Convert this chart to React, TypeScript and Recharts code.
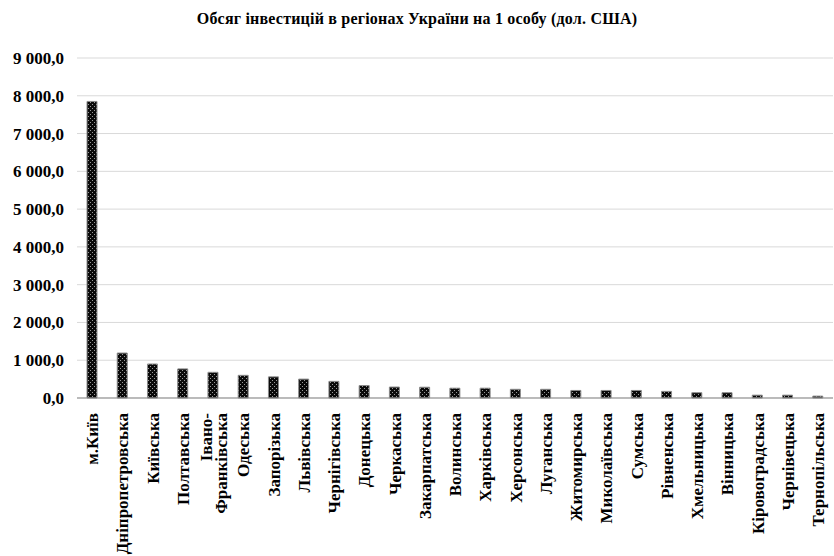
import React from 'react';
import { BarChart, Bar, XAxis, YAxis, CartesianGrid } from 'recharts';

const regions = [
  'м.Київ', 'Дніпропетровська', 'Київська', 'Полтавська', 'Івано-\nФранківська',
  'Одеська', 'Запорізька', 'Львівська', 'Чернігівська', 'Донецька',
  'Черкаська', 'Закарпатська', 'Волинська', 'Харківська', 'Херсонська',
  'Луганська', 'Житомирська', 'Миколаївська', 'Сумська', 'Рівненська',
  'Хмельницька', 'Вінницька', 'Кіровоградська', 'Чернівецька', 'Тернопільська',
];

const perCapita = [
  7850, 1190, 900, 770, 680,
  600, 560, 500, 440, 330,
  290, 285, 260, 260, 230,
  230, 200, 200, 200, 175,
  140, 140, 75, 75, 50,
];

const yTicks = [0, 1000, 2000, 3000, 4000, 5000, 6000, 7000, 8000, 9000];

const chartData = regions.map((name, i) => ({ name, value: perCapita[i] }));

const FONT = 'Liberation Serif, Times New Roman, serif';

// 1 000,0
const fmt = (v: number) => {
  const int = Math.round(v).toString().replace(/\B(?=(\d{3})+(?!\d))/g, ' ');
  return `${int},0`;
};

const RegionTick = (props: any) => {
  const { x, y, payload } = props;
  const lines: string[] = String(payload.value).split('\n');
  const gap = 15;
  return (
    <g transform={`translate(${x},${y + 7})`}>
      {lines.map((line, i) => {
        const off = (i - (lines.length - 1) / 2) * gap;
        return (
          <text
            key={i}
            transform={`translate(${off},0) rotate(-90)`}
            textAnchor="end"
            dy="0.36em"
            fill="#000"
            fontFamily={FONT}
            fontWeight="bold"
            fontSize={17}
          >
            {line}
          </text>
        );
      })}
    </g>
  );
};

export default function App() {
  return (
    <div style={{ position: 'relative', width: 834, height: 556, background: '#fff' }}>
      <style>{`body{margin:0}`}</style>
      <div
        style={{
          position: 'absolute',
          top: 10,
          left: 0,
          width: 834,
          textAlign: 'center',
          fontFamily: FONT,
          fontWeight: 'bold',
          fontSize: 16,
          letterSpacing: '0.2px',
          color: '#000',
        }}
      >
        Обсяг інвестицій в регіонах України на 1 особу (дол. США)
      </div>
      <BarChart
        width={834}
        height={556}
        data={chartData}
        margin={{ top: 58, right: 1, left: 0, bottom: 0 }}
      >
        <defs>
          <pattern id="dots" width="4" height="4" patternUnits="userSpaceOnUse">
            <rect width="4" height="4" fill="#0a0a0a" />
            <rect x="0" y="0" width="1" height="1" fill="#9a9a9a" />
            <rect x="2" y="2" width="1" height="1" fill="#9a9a9a" />
          </pattern>
        </defs>
        <CartesianGrid vertical={false} stroke="#d9d9d9" strokeWidth={1} />
        <XAxis
          dataKey="name"
          interval={0}
          height={158}
          tickLine={false}
          axisLine={{ stroke: '#898989' }}
          tick={<RegionTick />}
        />
        <YAxis
          width={77}
          domain={[0, 9000]}
          ticks={yTicks}
          interval={0}
          axisLine={false}
          tickLine={false}
          tickSize={0}
          tickMargin={13}
          tickFormatter={fmt}
          tick={{ fill: '#000', fontFamily: FONT, fontWeight: 'bold', fontSize: 17 } as any}
        />
        <Bar
          dataKey="value"
          fill="url(#dots)"
          stroke="#8a8a8a"
          strokeWidth={1}
          barSize={10}
          isAnimationActive={false}
        />
      </BarChart>
    </div>
  );
}
